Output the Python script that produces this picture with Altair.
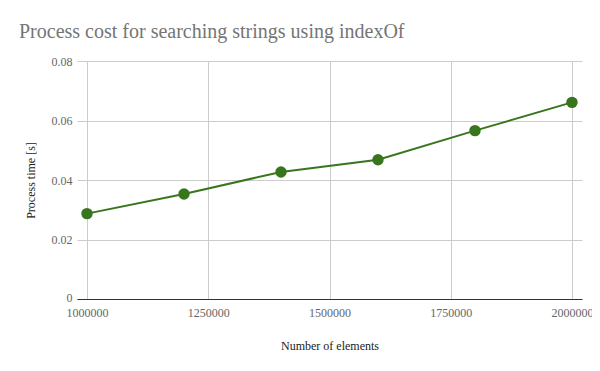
import altair as alt
import pandas as pd

elements = [1000000, 1200000, 1400000, 1600000, 1800000, 2000000]
times = [0.0287, 0.0353, 0.0427, 0.0468, 0.0566, 0.0661]
x_ticks = [1000000, 1250000, 1500000, 1750000, 2000000]
y_ticks = [0, 0.02, 0.04, 0.06, 0.08]

df = pd.DataFrame({"n": elements, "t": times})

FONT = "Liberation Serif"
GREEN = "#38761d"

x = alt.X("n:Q",
          scale=alt.Scale(domain=[1000000, 2000000], nice=False, zero=False, padding=10),
          axis=alt.Axis(values=x_ticks, title="Number of elements", format="d",
                        grid=True, gridColor="#cccccc", ticks=False,
                        domainColor="#333333", labelPadding=8,
                        labelFont=FONT, labelFontSize=12, labelColor="#666666",
                        titleFont=FONT, titleFontSize=12, titleFontWeight="normal",
                        titleColor="#222222", titlePadding=22))
y = alt.Y("t:Q",
          scale=alt.Scale(domain=[0, 0.08], nice=False),
          axis=alt.Axis(values=y_ticks, title="Process time [s]",
                        grid=True, gridColor="#cccccc", ticks=False,
                        domain=False, labelPadding=5, titlePadding=14,
                        labelOffset=alt.ExprRef("datum.value == 0 ? -2 : 0"),
                        labelFont=FONT, labelFontSize=12, labelColor="#666666",
                        titleFont=FONT, titleFontSize=12, titleFontWeight="normal",
                        titleColor="#222222",
                        labelExpr="datum.value == 0 ? '0' : format(datum.value, '.2f')"))

line = alt.Chart(df).mark_line(color=GREEN, strokeWidth=2).encode(x=x, y=y)
pts = alt.Chart(df).mark_circle(color=GREEN, size=130, opacity=1).encode(x=x, y=y)

chart = (line + pts).properties(
    width=505, height=238,
    autosize=alt.AutoSizeParams(type="none"),
    padding={"left": 69, "top": 53, "right": 10, "bottom": 72},
    title=alt.TitleParams("Process cost for searching strings using indexOf",
                          anchor="start", frame="group", dx=-58, offset=13,
                          font=FONT, fontSize=20, fontWeight="normal", color="#757575"),
).configure_view(stroke=None)

chart.save("out.html", embed_options={"renderer": "svg", "actions": False})
